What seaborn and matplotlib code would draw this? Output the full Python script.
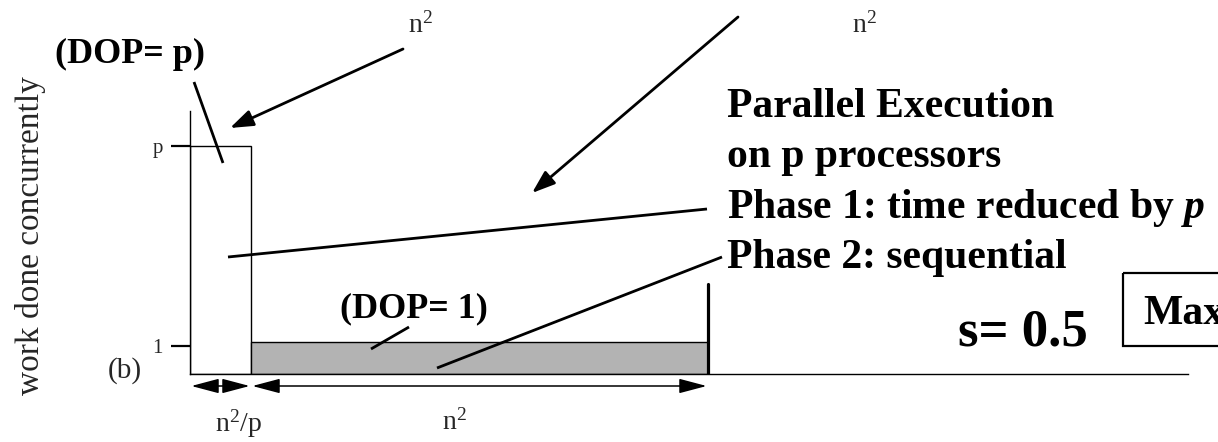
import matplotlib
matplotlib.use("Agg")
import matplotlib.pyplot as plt
from matplotlib.patches import Rectangle
import seaborn as sns

# phases of the program (diagram units, not to scale)
phase_names = ["Phase 1", "Phase 2"]
phase_time = [61, 457]          # n^2/p  and  n^2
phase_dop = [228, 32]           # p  and  1
phase_colors = ["white", "#b3b3b3"]
span_labels = [r"n$^2$/p", r"n$^2$"]
ytick_pos = [28, 228]
ytick_labels = ["1", "p"]

sns.set_theme(style="white")
plt.rcParams["font.family"] = ["Liberation Serif", "DejaVu Serif"]
plt.rcParams["mathtext.fontset"] = "custom"
plt.rcParams["mathtext.rm"] = "Liberation Serif"
plt.rcParams["mathtext.it"] = "Liberation Serif:italic:bold"
plt.rcParams["mathtext.bf"] = "Liberation Serif:bold"

W, H = 1218, 442
fig = plt.figure(figsize=(W / 100, H / 100), dpi=100)
fig.patch.set_facecolor("white")

# ---------------- main axes with the two phases ----------------
ax = fig.add_axes([190 / W, 68 / H, 998 / W, 263 / H])
ax.set_xlim(0, 998)
ax.set_ylim(0, 263)
ax.set_facecolor("none")
for s in ["top", "right"]:
    ax.spines[s].set_visible(False)
for s in ["left", "bottom"]:
    ax.spines[s].set_color("black")
    ax.spines[s].set_linewidth(1.0)

starts = [sum(phase_time[:i]) for i in range(len(phase_time))]
ax.bar(starts, phase_dop, width=phase_time, align="edge",
       color=phase_colors, edgecolor="black", linewidth=1.0, zorder=2)
end = starts[-1] + phase_time[-1]
ax.plot([end, end], [0, 90], color="black", lw=2.3, zorder=3)

ax.set_xticks([])
ax.set_yticks(ytick_pos)
ax.set_yticklabels(ytick_labels, fontsize=15)
ax.tick_params(axis="y", direction="out", length=13.5, width=1.6,
               color="black", pad=6, left=True)

# span arrows below the time axis
for st, w in zip(starts, phase_time):
    ax.annotate("", xy=(st, -12), xytext=(st + w, -12),
                arrowprops=dict(arrowstyle="<|-|>,head_length=1.7,head_width=0.45",
                                mutation_scale=10, lw=1.1, color="black",
                                shrinkA=1, shrinkB=1),
                annotation_clip=False)

# ---------------- overlay for annotations (pixel coords) ----------------
ov = fig.add_axes([0, 0, 1, 1])
ov.set_xlim(0, W)
ov.set_ylim(H, 0)
ov.axis("off")
ov.patch.set_visible(False)

bold = dict(fontweight="bold", color="black", va="baseline")

ov.text(31, 236, "work done concurrently", rotation=90, fontsize=24,
        ha="center", va="center")
ov.text(125, 378, "(b)", fontsize=21, ha="center", va="baseline")
ov.text(238, 432, span_labels[0], fontsize=20, ha="center", va="baseline")
ov.text(454, 430, span_labels[1], fontsize=20, ha="center", va="baseline")
ov.text(420, 33, r"n$^2$", fontsize=20, ha="center", va="baseline")
ov.text(864, 33, r"n$^2$", fontsize=20, ha="center", va="baseline")

ov.text(55, 63, "(DOP= p)", fontsize=26, ha="left", **bold)
ov.text(340, 317, "(DOP= 1)", fontsize=26, ha="left", **bold)

right_lines = ["Parallel Execution", "on p processors",
               r"Phase 1: time reduced by $p$", "Phase 2: sequential"]
for txt, yb in zip(right_lines, [117, 167, 218, 268]):
    ov.text(727, yb, txt, fontsize=30, ha="left", **bold)

ov.text(958, 345, "s= 0.5", fontsize=38, ha="left", **bold)
ov.add_patch(Rectangle((1123, 273), 200, 73, fill=False, ec="black", lw=1.6))
ov.text(1143, 324, "Max", fontsize=30, ha="left", clip_on=True, **bold)

# leader lines
leaders = [((194, 82), (223, 163)),
           ((228, 257), (707, 209)),
           ((437, 368), (722, 257)),
           ((371, 349), (409, 327))]
for (x0, y0), (x1, y1) in leaders:
    ov.plot([x0, x1], [y0, y1], color="black", lw=2.0, solid_capstyle="butt")

# pointing arrows
for (x0, y0), (x1, y1) in [((403, 49), (230, 128)), ((738, 17), (532, 193))]:
    ov.annotate("", xy=(x1, y1), xytext=(x0, y0),
                arrowprops=dict(arrowstyle="-|>,head_length=1.4,head_width=0.5",
                                mutation_scale=10, lw=2.0, color="black",
                                shrinkA=0, shrinkB=0))

fig.savefig("out.png", dpi=100)
